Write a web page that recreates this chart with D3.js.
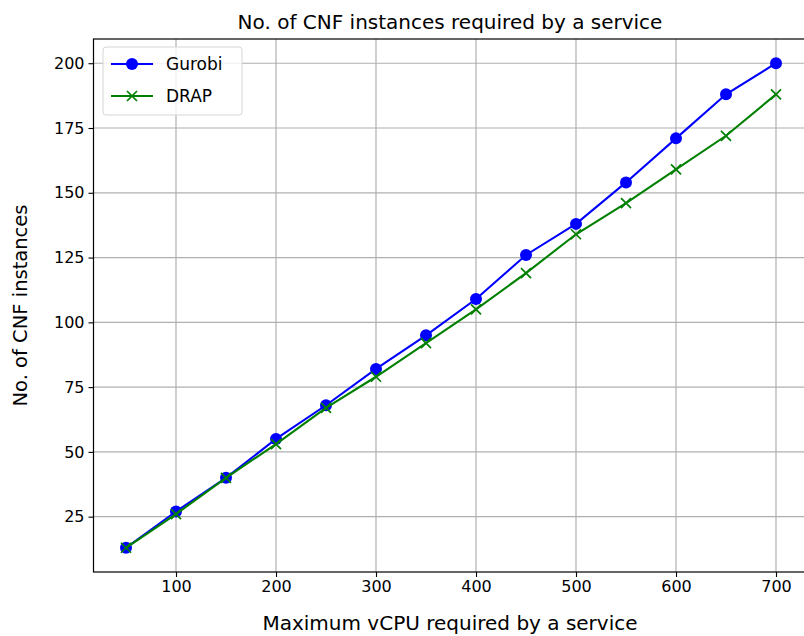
<!DOCTYPE html>
<html>
<head>
<meta charset="utf-8">
<script src="https://cdn.jsdelivr.net/npm/d3@7"></script>
<style>
  body { margin: 0; background: #fff; }
  svg { display: block; font-family: "DejaVu Sans", sans-serif; }
</style>
</head>
<body>
<svg id="chart"></svg>
<script>
// data
const vcpu = [50, 100, 150, 200, 250, 300, 350, 400, 450, 500, 550, 600, 650, 700];
const gurobi = [13, 27, 40, 55, 68, 82, 95, 109, 126, 138, 154, 171, 188, 200];
const drap = [13, 26, 40, 53, 67, 79, 92, 105, 119, 134, 146, 159, 172, 188];
const xTicks = [100, 200, 300, 400, 500, 600, 700];
const yTicks = [25, 50, 75, 100, 125, 150, 175, 200];

const width = 804, height = 636;
const marginLeft = 93.5, marginTop = 39, plotW = 715, plotH = 533;
const tickFont = 16, labelFont = 20, titleFont = 20;

const svg = d3.select('#chart')
  .attr('width', width)
  .attr('height', height)
  .attr('viewBox', [0, 0, width, height]);

// matplotlib style 5% padding
const x = d3.scaleLinear().domain([17.5, 732.5]).range([marginLeft, marginLeft + plotW]);
const y = d3.scaleLinear().domain([3.65, 209.35]).range([marginTop + plotH, marginTop]);

const grid = svg.append('g');
grid.selectAll('.gx').data(xTicks).enter().append('line')
  .attr('x1', d => x(d)).attr('x2', d => x(d))
  .attr('y1', marginTop).attr('y2', marginTop + plotH)
  .attr('stroke', '#b0b0b0').attr('stroke-width', 1.2);
grid.selectAll('.gy').data(yTicks).enter().append('line')
  .attr('x1', marginLeft).attr('x2', marginLeft + plotW)
  .attr('y1', d => y(d)).attr('y2', d => y(d))
  .attr('stroke', '#b0b0b0').attr('stroke-width', 1.2);

// axes
const xAxis = svg.append('g')
  .attr('transform', `translate(0, ${marginTop + plotH})`)
  .call(d3.axisBottom(x).tickValues(xTicks).tickSize(5).tickPadding(4));
const yAxis = svg.append('g')
  .attr('transform', `translate(${marginLeft}, 0)`)
  .call(d3.axisLeft(y).tickValues(yTicks).tickSize(5).tickPadding(4));
[xAxis, yAxis].forEach(a => {
  a.select('.domain').remove();
  a.selectAll('text').attr('font-size', tickFont).attr('fill', '#000')
    .attr('font-family', '"DejaVu Sans", sans-serif');
  a.selectAll('line').attr('stroke', '#000').attr('stroke-width', 1.1);
});

// frame
svg.append('rect')
  .attr('x', marginLeft).attr('y', marginTop)
  .attr('width', plotW).attr('height', plotH)
  .attr('fill', 'none').attr('stroke', '#000').attr('stroke-width', 1.2);

const line = d3.line().x((d, i) => x(vcpu[i])).y(d => y(d));

function crossPath(cx, cy, s) {
  return `M${cx - s},${cy - s}L${cx + s},${cy + s}M${cx - s},${cy + s}L${cx + s},${cy - s}`;
}

// Gurobi
svg.append('path').datum(gurobi)
  .attr('d', line).attr('fill', 'none')
  .attr('stroke', 'blue').attr('stroke-width', 2.1);
svg.selectAll('.gdot').data(gurobi).enter().append('circle')
  .attr('cx', (d, i) => x(vcpu[i])).attr('cy', d => y(d))
  .attr('r', 6).attr('fill', 'blue');

// DRAP
svg.append('path').datum(drap)
  .attr('d', line).attr('fill', 'none')
  .attr('stroke', 'green').attr('stroke-width', 2.1);
svg.selectAll('.dx').data(drap).enter().append('path')
  .attr('d', (d, i) => crossPath(x(vcpu[i]), y(d), 5))
  .attr('stroke', 'green').attr('stroke-width', 1.7);

// legend
const legend = svg.append('g').attr('transform', 'translate(103, 47)');
legend.append('rect')
  .attr('width', 139).attr('height', 68).attr('rx', 3)
  .attr('fill', 'rgba(255,255,255,0.8)').attr('stroke', '#d6d6d6');
legend.append('line').attr('x1', 8).attr('x2', 50).attr('y1', 17).attr('y2', 17)
  .attr('stroke', 'blue').attr('stroke-width', 2.1);
legend.append('circle').attr('cx', 29).attr('cy', 17).attr('r', 6).attr('fill', 'blue');
legend.append('text').attr('x', 63).attr('y', 17).attr('dy', '0.35em')
  .attr('font-size', 17).text('Gurobi');
legend.append('line').attr('x1', 8).attr('x2', 50).attr('y1', 49).attr('y2', 49)
  .attr('stroke', 'green').attr('stroke-width', 2.1);
legend.append('path').attr('d', crossPath(29, 49, 5))
  .attr('stroke', 'green').attr('stroke-width', 1.7);
legend.append('text').attr('x', 63).attr('y', 49).attr('dy', '0.35em')
  .attr('font-size', 17).text('DRAP');

// titles
svg.append('text')
  .attr('x', marginLeft + plotW / 2 - 1).attr('y', 29)
  .attr('text-anchor', 'middle').attr('font-size', titleFont)
  .text('No. of CNF instances required by a service');
svg.append('text')
  .attr('x', marginLeft + plotW / 2 - 1).attr('y', 630)
  .attr('text-anchor', 'middle').attr('font-size', labelFont)
  .text('Maximum vCPU required by a service');
svg.append('text')
  .attr('transform', `translate(27, ${marginTop + plotH / 2}) rotate(-90)`)
  .attr('text-anchor', 'middle').attr('font-size', 19.5)
  .text('No. of CNF instances');
</script>
</body>
</html>
